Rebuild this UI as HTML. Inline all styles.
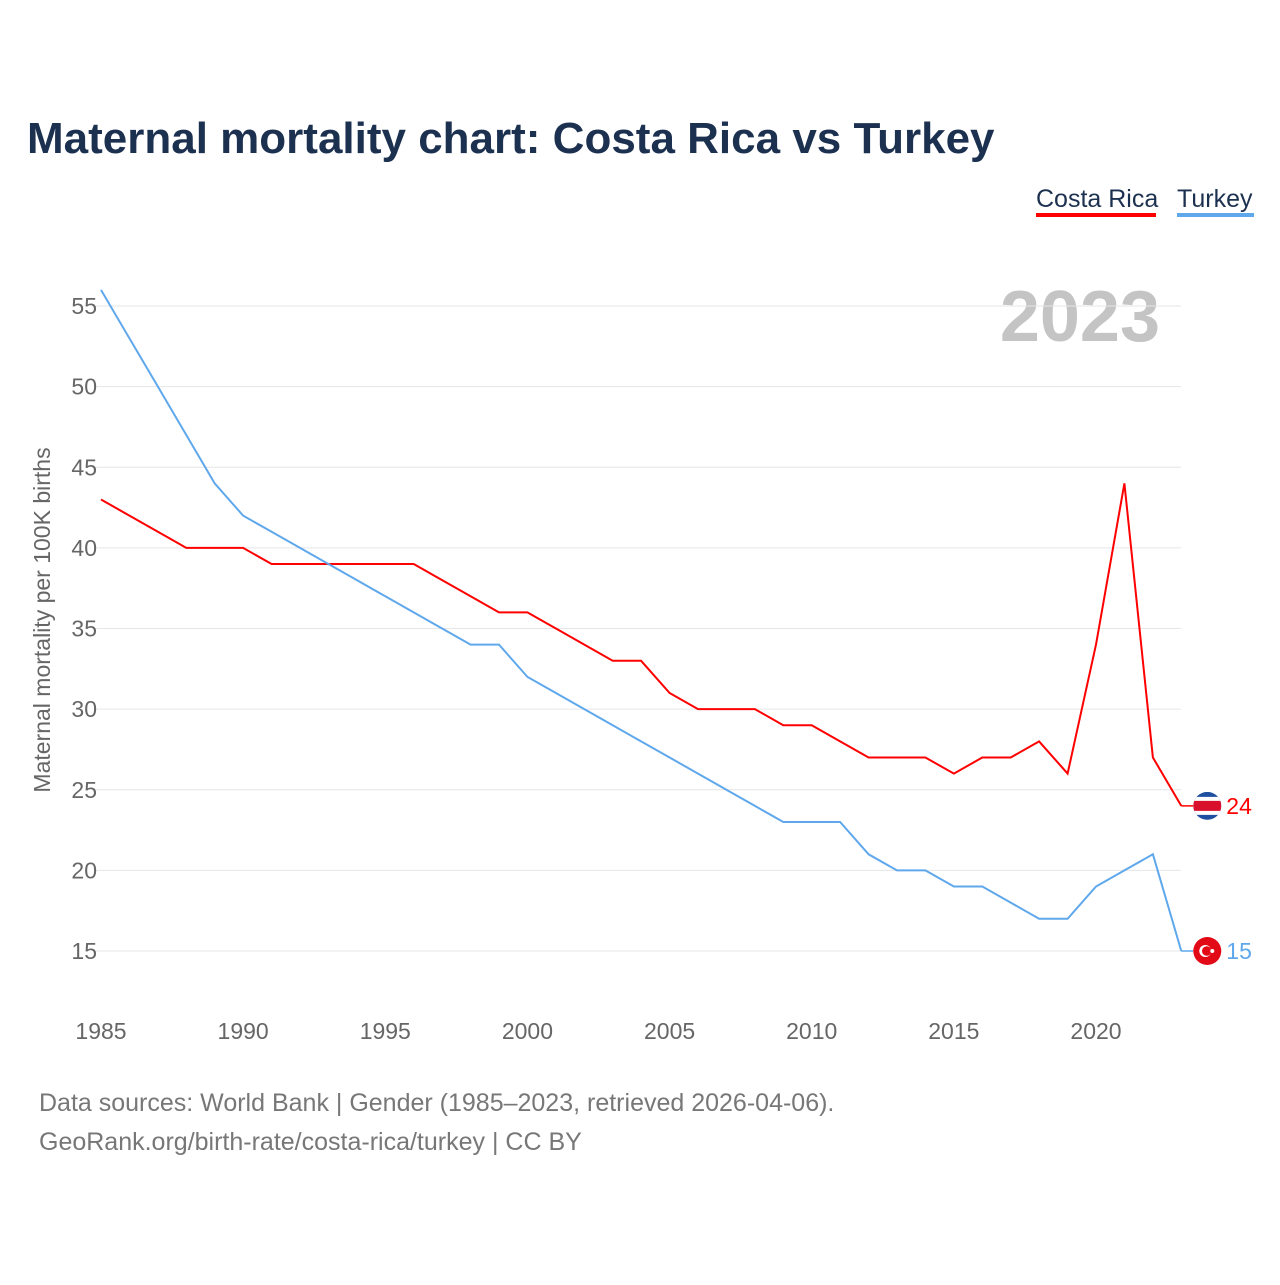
<!DOCTYPE html>
<html><head><meta charset="utf-8"><style>
body{margin:0;background:#fff;font-family:"Liberation Sans",sans-serif;}
svg text{font-family:"Liberation Sans",sans-serif;}
</style></head><body>
<svg width="1280" height="1280" viewBox="0 0 1280 1280">
<text x="27" y="153" font-size="44" font-weight="bold" fill="#1c3150">Maternal mortality chart: Costa Rica vs Turkey</text>
<g>
<text x="1036" y="207" font-size="25" fill="#1c3150">Costa Rica</text>
<rect x="1036" y="213" width="120" height="4" fill="#ff0000"/>
<text x="1177" y="207" font-size="25" fill="#1c3150">Turkey</text>
<rect x="1177" y="213" width="77" height="4" fill="#5fa8ec"/>
</g>
<text x="1160" y="341" font-size="72" font-weight="bold" fill="#c4c4c4" text-anchor="end">2023</text>
<g id="grid"></g>
<g id="yticks"></g>
<g id="xticks"></g>
<text transform="translate(50,620) rotate(-90)" font-size="23" fill="#666" text-anchor="middle">Maternal mortality per 100K births</text>
<g id="series"></g>
<text x="39" y="1111" font-size="25" fill="#777">Data sources: World Bank | Gender (1985–2023, retrieved 2026-04-06).</text>
<text x="39" y="1150" font-size="25" fill="#777">GeoRank.org/birth-rate/costa-rica/turkey | CC BY</text>
</svg>
<script>
const years=[];for(let y=1985;y<=2023;y++)years.push(y);
const costaRica=[43,42,41,40,40,40,39,39,39,39,39,39,38,37,36,36,35,34,33,33,31,30,30,30,29,29,28,27,27,27,26,27,27,28,26,34,44,27,24];
const turkey=[56,53,50,47,44,42,41,40,39,38,37,36,35,34,34,32,31,30,29,28,27,26,25,24,23,23,23,21,20,20,19,19,18,17,17,19,20,21,15];
const yTicks=[15,20,25,30,35,40,45,50,55];
const xTicks=[1985,1990,1995,2000,2005,2010,2015,2020];
const NS="http://www.w3.org/2000/svg";
const X=v=>101+(v-1985)*(995/35);
const Y=v=>951-(v-15)*(645/40);
function mk(t,a,p){const e=document.createElementNS(NS,t);for(const k in a)e.setAttribute(k,a[k]);p.appendChild(e);return e;}
const grid=document.getElementById('grid'),yt=document.getElementById('yticks'),xt=document.getElementById('xticks'),sr=document.getElementById('series');
yTicks.forEach(v=>{
 const l=mk('line',{x1:95,x2:1181,y1:Y(v),y2:Y(v),stroke:'#e6e6e6','stroke-width':1},grid);
 
 
 const t=mk('text',{x:97,y:Y(v)+8,'font-size':23,fill:'#666','text-anchor':'end'},yt);t.textContent=v;
 
 
});
xTicks.forEach(v=>{
 const t=mk('text',{x:X(v),y:1039,'font-size':23,fill:'#666','text-anchor':'middle'},xt);t.textContent=v;
 
 
});
function series(vals,color,name,flag){
 const d=vals.map((v,i)=>(i?'L':'M')+X(years[i]).toFixed(1)+','+Y(v).toFixed(1)).join(' ');
 const p=mk('path',{d:d,fill:'none',stroke:color,'stroke-width':2},sr);
 
 
 const last=vals[vals.length-1],y=Y(last),x=X(years[years.length-1]);
 mk('line',{x1:x,x2:x+12,y1:y,y2:y,stroke:color,'stroke-width':1.5},sr);
 const g=mk('g',{},sr);
 
 
 flag(g,x+26,y);
 const t=mk('text',{x:x+45,y:y+8,'font-size':23,fill:color},sr);t.textContent=last;
 
 
}
series(costaRica,'#ff0000','costa-rica',(g,cx,cy)=>{
 mk('clipPath',{id:'cc'},g).appendChild(Object.assign(document.createElementNS(NS,'circle'),{}));
 const c=g.querySelector('clipPath circle');c.setAttribute('cx',cx);c.setAttribute('cy',cy);c.setAttribute('r',14);
 const gg=mk('g',{'clip-path':'url(#cc)'},g);
 mk('rect',{x:cx-14,y:cy-14,width:28,height:28,fill:'#1e4fa0'},gg);
 mk('rect',{x:cx-14,y:cy-9,width:28,height:18,fill:'#fff'},gg);
 mk('rect',{x:cx-14,y:cy-5,width:28,height:10,fill:'#d8102c'},gg);
});
series(turkey,'#5fa8ec','turkey',(g,cx,cy)=>{
 mk('circle',{cx:cx,cy:cy,r:14,fill:'#e30a17'},g);
 mk('circle',{cx:cx-2,cy:cy,r:6,fill:'#fff'},g);
 mk('circle',{cx:cx-0.5,cy:cy,r:4.8,fill:'#e30a17'},g);
 mk('circle',{cx:cx+5,cy:cy,r:2,fill:'#fff'},g);
});
</script>
</body></html>
